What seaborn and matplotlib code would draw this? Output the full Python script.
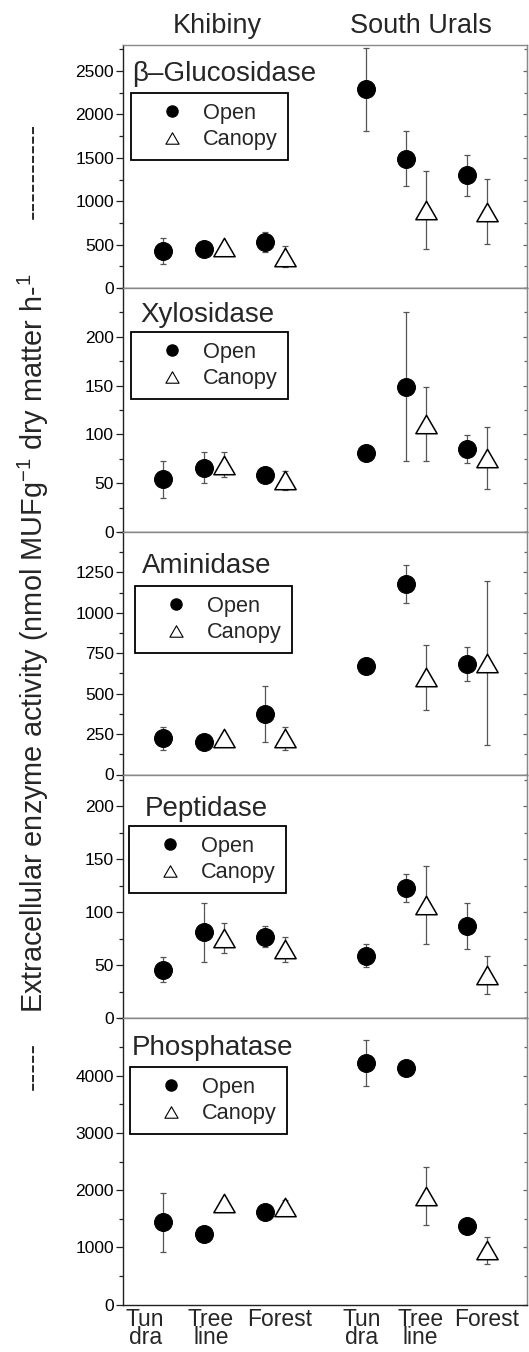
import numpy as np
import pandas as pd
import matplotlib
matplotlib.use("Agg")
import matplotlib.pyplot as plt
import seaborn as sns
from matplotlib.lines import Line2D
from matplotlib.path import Path
from matplotlib.ticker import FixedLocator, MultipleLocator

# ---------------- data ----------------
regions = ["Khibiny"] * 5 + ["South Urals"] * 5
habitats = ["Tundra", "Treeline", "Treeline", "Forest", "Forest"] * 2
covers = ["Open", "Open", "Canopy", "Open", "Canopy"] * 2

enzymes = ["β–Glucosidase", "Xylosidase", "Aminidase", "Peptidase", "Phosphatase"]

glucosidase_mean = [430, 450, 470, 530, 360, 2290, 1490, 900, 1300, 880]
glucosidase_err = [150, 30, 20, 120, 120, 480, 320, 450, 235, 375]
xylosidase_mean = [54, 66, 69, 58, 53, 81, 149, 111, 85, 76]
xylosidase_err = [19, 16, 13, 4, 10, 4, 76, 38, 14, 32]
aminidase_mean = [224, 199, 224, 373, 224, 672, 1178, 602, 684, 690]
aminidase_err = [70, 20, 20, 173, 70, 20, 118, 200, 106, 505]
peptidase_mean = [46, 81, 76, 77, 65, 59, 123, 107, 87, 41]
peptidase_err = [12, 28, 14, 10, 12, 11, 13, 37, 22, 18]
phosphatase_mean = [1440, 1238, 1783, 1627, 1700, 4215, 4139, 1900, 1377, 948]
phosphatase_err = [517, 60, 60, 60, 130, 400, 60, 500, 60, 230]

means = [glucosidase_mean, xylosidase_mean, aminidase_mean, peptidase_mean, phosphatase_mean]
errs = [glucosidase_err, xylosidase_err, aminidase_err, peptidase_err, phosphatase_err]

y_max = [2800, 250, 1500, 230, 5000]
y_major = [[0, 500, 1000, 1500, 2000, 2500],
           [0, 50, 100, 150, 200],
           [0, 250, 500, 750, 1000, 1250],
           [0, 50, 100, 150, 200],
           [0, 1000, 2000, 3000, 4000]]
y_minor = [250, 25, 125, 25, 500]

x_tick_labels = ["Tun\ndra", "Tree\nline", "Forest", "Tun\ndra", "Tree\nline", "Forest"]
legend_labels = ["Open", "Canopy"]
y_label = "Extracellular enzyme activity (nmol MUFg$^{-1}$ dry matter h-$^{1}$"

# ---------------- layout ----------------
W, H = 529, 1352
region_off = {"Khibiny": 0, "South Urals": 10}
habitat_off = {"Tundra": 0, "Treeline": 2, "Forest": 5}
cover_off = {"Open": 0, "Canopy": 1}
x_tick_pos = [-0.9, 2.35, 5.75, 9.8, 12.7, 16.0]

ax_left_px, ax_right_px = 123, 527.3
edges_px = [45, 288, 532, 774.5, 1018.3, 1304.7]
title_px = [(131.7, 81), (140, 322), (142, 573), (145, 816), (132, 1055)]
legend_px = [(131, 93), (131, 332), (135, 586), (129, 826), (130, 1067)]

sns.set_style("ticks")
plt.rcParams["font.family"] = ["Liberation Sans", "DejaVu Sans"]
plt.rcParams["mathtext.fontset"] = "custom"
plt.rcParams["mathtext.rm"] = "Liberation Sans"
plt.rcParams["mathtext.it"] = "Liberation Sans:italic"
plt.rcParams["mathtext.default"] = "regular"

fig = plt.figure(figsize=(W / 100, H / 100), dpi=100)

tri = Path([(-1, -0.866), (1, -0.866), (0, 0.866), (-1, -0.866)],
           [Path.MOVETO, Path.LINETO, Path.LINETO, Path.CLOSEPOLY])

xs = [region_off[r] + habitat_off[h] + cover_off[c] for r, h, c in zip(regions, habitats, covers)]

for i in range(5):
    top, bot = edges_px[i], edges_px[i + 1]
    ax = fig.add_axes([ax_left_px / W, 1 - bot / H, (ax_right_px - ax_left_px) / W, (bot - top) / H])
    df = pd.DataFrame({"region": regions, "habitat": habitats, "cover": covers,
                       "x": xs, "value": means[i], "err": errs[i]})
    ax.errorbar(df["x"], df["value"], yerr=df["err"], fmt="none", ecolor="#555555",
                elinewidth=0.9, capsize=2.2, capthick=0.9, zorder=1)
    op = df[df["cover"] == "Open"]
    ca = df[df["cover"] == "Canopy"]
    sns.scatterplot(data=op, x="x", y="value", marker="o", s=165, color="black",
                    edgecolor="black", linewidth=0.8, legend=False, ax=ax, zorder=3)
    sns.scatterplot(data=ca, x="x", y="value", marker=tri, s=235, facecolor="white",
                    edgecolor="black", linewidth=1.1, legend=False, ax=ax, zorder=3)
    ax.set_xlim(-2, 18)
    ax.set_ylim(0, y_max[i])
    ax.set_xlabel("")
    ax.set_ylabel("")
    ax.yaxis.set_major_locator(FixedLocator(y_major[i]))
    ax.yaxis.set_minor_locator(MultipleLocator(y_minor[i]))
    ax.tick_params(axis="y", which="major", length=5, width=0.9, direction="out",
                   labelsize=12.5, pad=1.5, colors="#222222", labelcolor="black")
    ax.tick_params(axis="y", which="minor", length=3, width=0.9, direction="out", colors="#222222")
    ax.tick_params(axis="x", length=0)
    sec = ax.secondary_yaxis("right")
    sec.yaxis.set_major_locator(FixedLocator(y_major[i]))
    sec.yaxis.set_minor_locator(MultipleLocator(y_minor[i]))
    sec.tick_params(axis="y", which="both", direction="in", labelright=False,
                    width=0.9, colors="#666666")
    sec.tick_params(axis="y", which="major", length=3)
    sec.tick_params(axis="y", which="minor", length=2.5)
    sec.spines["right"].set_color("#888888")
    for s in ["left", "bottom"]:
        ax.spines[s].set_color("#222222")
        ax.spines[s].set_linewidth(1.0)
    for s in ["top", "right"]:
        ax.spines[s].set_color("#888888")
        ax.spines[s].set_linewidth(1.0)

    if i == 4:
        ax.set_xticks(x_tick_pos)
        ax.set_xticklabels(x_tick_labels, fontsize=16.5, linespacing=0.72)
        ax.tick_params(axis="x", pad=2.5)
    else:
        ax.set_xticks([])

    tx, ty = title_px[i]
    ax.text((tx - ax_left_px) / (ax_right_px - ax_left_px), (bot - ty) / (bot - top), enzymes[i],
            transform=ax.transAxes, ha="left", va="baseline", fontsize=20)

    handles = [Line2D([], [], ls="none", marker="o", color="black", markersize=8),
               Line2D([], [], ls="none", marker=tri, markerfacecolor="white",
                      markeredgecolor="black", markeredgewidth=0.8, markersize=9.5)]
    lx, ly = legend_px[i]
    leg = ax.legend(handles, legend_labels, loc="upper left",
                    bbox_to_anchor=((lx - ax_left_px) / (ax_right_px - ax_left_px), (bot - ly) / (bot - top)),
                    borderaxespad=0, fontsize=15.7, frameon=True, fancybox=False,
                    framealpha=1, edgecolor="black", handlelength=2.85, handletextpad=0.0,
                    borderpad=0.45, labelspacing=0.25)
    leg.get_frame().set_linewidth(1.3)

# region labels
fig.text(217.5 / W, 1 - 33 / H, "Khibiny", ha="center", va="baseline", fontsize=19.5)
fig.text(421 / W, 1 - 33 / H, "South Urals", ha="center", va="baseline", fontsize=19.5)

# y label and dash marks
fig.text(33 / W, 1 - 643 / H, y_label, rotation=90, ha="center", va="center", fontsize=20.8)
fig.text(33 / W, 1 - 171 / H, "----------", rotation=90, ha="center", va="center", fontsize=21)
fig.text(33 / W, 1 - 1066 / H, "-----", rotation=90, ha="center", va="center", fontsize=21)

fig.savefig("out.png", dpi=100)
